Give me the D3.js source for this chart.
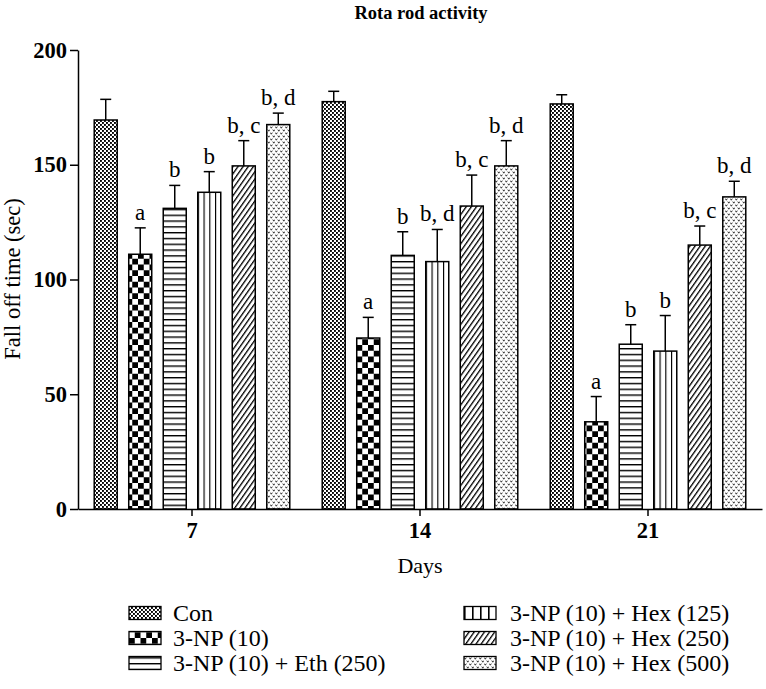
<!DOCTYPE html>
<html>
<head>
<meta charset="utf-8">
<script src="https://cdn.jsdelivr.net/npm/d3@7"></script>
<style>
  html, body { margin: 0; padding: 0; background: #fff; }
  svg { display: block; font-family: "Liberation Serif", "Times New Roman", serif; }
</style>
</head>
<body>
<svg id="chart" width="766" height="689"></svg>
<script>
// ---- data ----
const days = ["7", "14", "21"];
const groups = ["Con", "3-NP (10)", "3-NP (10) + Eth (250)", "3-NP (10) + Hex (125)", "3-NP (10) + Hex (250)", "3-NP (10) + Hex (500)"];
const meanDay7  = [169.5, 111, 131, 138, 149.5, 167.5];
const meanDay14 = [177.5, 74.5, 110.5, 107.8, 132, 149.5];
const meanDay21 = [176.5, 38, 71.8, 68.8, 115, 136];
const errDay7   = [9, 11.5, 10, 9, 11, 5];
const errDay14  = [4.5, 9, 10.3, 14, 13.5, 11];
const errDay21  = [4, 11, 8.5, 15.5, 8.3, 6.8];
const sigDay7   = ["", "a", "b", "b", "b, c", "b, d"];
const sigDay14  = ["", "a", "b", "b, d", "b, c", "b, d"];
const sigDay21  = ["", "a", "b", "b", "b, c", "b, d"];
const yTicks = [0, 50, 100, 150, 200];

const means = [meanDay7, meanDay14, meanDay21];
const errs = [errDay7, errDay14, errDay21];
const sigs = [sigDay7, sigDay14, sigDay21];

const rows = [];
days.forEach((d, i) => groups.forEach((g, j) => rows.push({day: d, group: g, gi: j, mean: means[i][j], err: errs[i][j], sig: sigs[i][j]})));

// ---- layout ----
const svg = d3.select("#chart");
const mLeft = 78, mRight = 762, mTop = 50, mBottom = 509;

const x0 = d3.scaleBand().domain(days).range([mLeft, mRight]).padding(0);
const x1 = d3.scaleBand().domain(groups).range([0, x0.bandwidth()]).paddingInner(1/3).paddingOuter(0.47);
const y = d3.scaleLinear().domain([0, 200]).range([mBottom, mTop]);

// ---- patterns ----
const defs = svg.append("defs");
// Con: fine checker
let p = defs.append("pattern").attr("id", "p0").attr("patternUnits", "userSpaceOnUse").attr("width", 4).attr("height", 4);
p.append("rect").attr("width", 4).attr("height", 4).attr("fill", "#fff");
p.append("rect").attr("width", 1.9).attr("height", 1.9).attr("fill", "#000");
p.append("rect").attr("x", 2).attr("y", 2).attr("width", 1.9).attr("height", 1.9).attr("fill", "#000");
// 3-NP: bold checker
p = defs.append("pattern").attr("id", "p1").attr("patternUnits", "userSpaceOnUse").attr("width", 11.5).attr("height", 11.5);
p.append("rect").attr("width", 11.5).attr("height", 11.5).attr("fill", "#fff");
p.append("rect").attr("width", 5.75).attr("height", 5.75).attr("fill", "#000");
p.append("rect").attr("x", 5.75).attr("y", 5.75).attr("width", 5.75).attr("height", 5.75).attr("fill", "#000");
// Eth: horizontal lines
p = defs.append("pattern").attr("id", "p2").attr("patternUnits", "userSpaceOnUse").attr("width", 10).attr("height", 5.8);
p.append("rect").attr("width", 10).attr("height", 5.8).attr("fill", "#fff");
p.append("rect").attr("y", 0).attr("width", 10).attr("height", 1.4).attr("fill", "#000");
// Hex125: vertical lines (4 columns per bar)
p = defs.append("pattern").attr("id", "p3").attr("patternUnits", "objectBoundingBox").attr("patternContentUnits", "objectBoundingBox").attr("width", 0.25).attr("height", 1);
p.append("rect").attr("width", 0.25).attr("height", 1).attr("fill", "#fff");
p.append("rect").attr("x", 0).attr("width", 0.05).attr("height", 1).attr("fill", "#000");
// Hex250: diagonal lines
p = defs.append("pattern").attr("id", "p4").attr("patternUnits", "userSpaceOnUse").attr("width", 4.2).attr("height", 4.2).attr("patternTransform", "rotate(35)");
p.append("rect").attr("width", 4.2).attr("height", 4.2).attr("fill", "#fff");
p.append("rect").attr("width", 1.3).attr("height", 4.2).attr("fill", "#000");
// Hex500: small v marks
p = defs.append("pattern").attr("id", "p5").attr("patternUnits", "userSpaceOnUse").attr("width", 5).attr("height", 6);
p.append("rect").attr("width", 5).attr("height", 6).attr("fill", "#fff");
p.append("path").attr("d", "M0.3,0.6 L1.3,2.2 L2.3,0.6").attr("fill", "none").attr("stroke", "#000").attr("stroke-width", 0.8);
p.append("path").attr("d", "M2.8,3.6 L3.8,5.2 L4.8,3.6").attr("fill", "none").attr("stroke", "#000").attr("stroke-width", 0.8);

const fillFor = i => `url(#p${i})`;

// ---- bars ----
const g = svg.append("g");
g.selectAll("rect.bar").data(rows).join("rect")
  .attr("class", "bar")
  .attr("x", d => x0(d.day) + x1(d.group))
  .attr("y", d => y(d.mean))
  .attr("width", x1.bandwidth())
  .attr("height", d => y(0) - y(d.mean))
  .attr("fill", d => fillFor(d.gi))
  .attr("stroke", "#000").attr("stroke-width", 1.5);

// error bars
const cap = 5.5;
const eb = g.selectAll("g.err").data(rows).join("g").attr("class", "err")
  .attr("transform", d => `translate(${x0(d.day) + x1(d.group) + x1.bandwidth() / 2},0)`);
eb.append("line").attr("x1", 0).attr("x2", 0).attr("y1", d => y(d.mean)).attr("y2", d => y(d.mean + d.err)).attr("stroke", "#000").attr("stroke-width", 1.5);
eb.append("line").attr("x1", -cap).attr("x2", cap).attr("y1", d => y(d.mean + d.err)).attr("y2", d => y(d.mean + d.err)).attr("stroke", "#000").attr("stroke-width", 1.5);
eb.append("text").attr("x", 0).attr("y", d => y(d.mean + d.err) - 8)
  .attr("text-anchor", "middle").attr("font-size", 23).text(d => d.sig);

// ---- axes ----
const yAxis = svg.append("g").attr("transform", `translate(${mLeft},0)`)
  .call(d3.axisLeft(y).tickValues(yTicks).tickSize(8).tickPadding(3).tickSizeOuter(0));
yAxis.select(".domain").attr("stroke-width", 1.5);
yAxis.selectAll(".tick line").attr("stroke-width", 1.5);
yAxis.selectAll("text").attr("font-size", 22.5).attr("font-weight", "bold").attr("font-family", "Liberation Serif").attr("fill", "#000");

const xAxis = svg.append("g").attr("transform", `translate(0,${mBottom})`)
  .call(d3.axisBottom(x0).tickSize(7).tickPadding(6).tickSizeOuter(0));
xAxis.select(".domain").attr("stroke-width", 1.5);
xAxis.selectAll(".tick line").attr("stroke-width", 1.5);
xAxis.selectAll("text").attr("font-size", 22.5).attr("font-weight", "bold").attr("font-family", "Liberation Serif").attr("fill", "#000");

// titles
svg.append("text").attr("x", 421).attr("y", 19).attr("text-anchor", "middle")
  .attr("font-size", 18.5).attr("font-weight", "bold").text("Rota rod activity");
svg.append("text").attr("x", 420).attr("y", 573).attr("text-anchor", "middle")
  .attr("font-size", 22).text("Days");
svg.append("text").attr("transform", "translate(20,279) rotate(-90)").attr("text-anchor", "middle")
  .attr("font-size", 22.5).text("Fall off time (sec)");

// ---- legend ----
const legX = [129, 464];
const legY = [613, 638, 663];
const leg = svg.append("g").selectAll("g").data(groups).join("g")
  .attr("transform", (d, i) => `translate(${legX[Math.floor(i / 3)]},${legY[i % 3]})`);
leg.append("rect").attr("x", 0).attr("y", -6.5).attr("width", 32).attr("height", 13)
  .attr("fill", (d, i) => fillFor(i)).attr("stroke", "#000").attr("stroke-width", 1.3);
leg.append("text").attr("x", (d, i) => i < 3 ? 44 : 46).attr("y", 8).attr("font-size", 24).text(d => d);
</script>
</body>
</html>
